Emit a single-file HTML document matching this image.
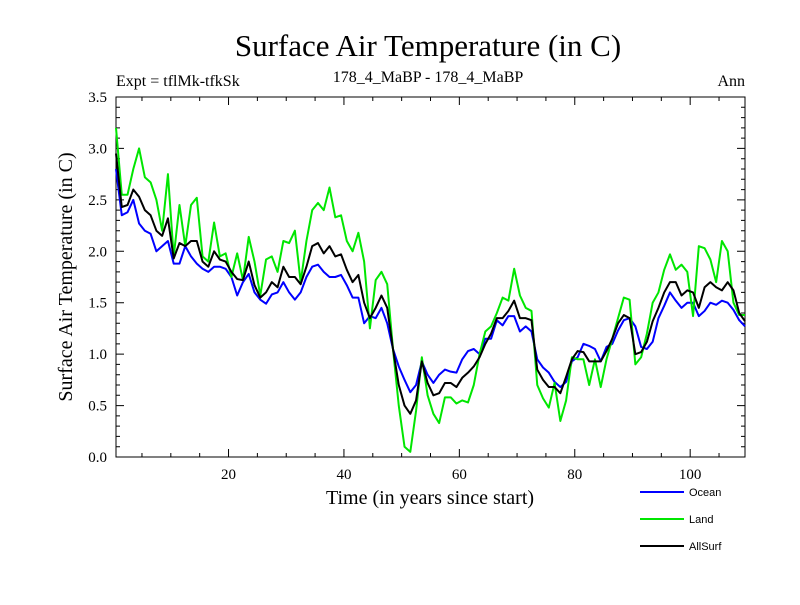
<!DOCTYPE html>
<html><head><meta charset="utf-8"><style>
body{margin:0;background:#fff;}
svg text{font-family:"Liberation Serif",serif;}
</style></head><body>
<svg id="chart" width="800" height="600" viewBox="0 0 800 600" xmlns="http://www.w3.org/2000/svg">
<rect width="800" height="600" fill="#fff"/>
<text x="428" y="56" text-anchor="middle" font-size="31">Surface Air Temperature (in C)</text>
<text x="116" y="86" font-size="16">Expt = tflMk-tfkSk</text>
<text x="428" y="82" text-anchor="middle" font-size="16">178_4_MaBP - 178_4_MaBP</text>
<text x="745" y="86" text-anchor="end" font-size="16">Ann</text>
<text x="430" y="504" text-anchor="middle" font-size="20">Time (in years since start)</text>
<text transform="translate(72,277) rotate(-90)" text-anchor="middle" font-size="20">Surface Air Temperature (in C)</text>
<g id="axes"></g>
<g id="series"></g>
<g id="legend"></g>
</svg>
<script>
const xTicks = [20, 40, 60, 80, 100];
const yTicks = [0.0, 0.5, 1.0, 1.5, 2.0, 2.5, 3.0, 3.5];
const yTickLabels = ["0.0","0.5","1.0","1.5","2.0","2.5","3.0","3.5"];
const seriesNames = ["Ocean", "Land", "AllSurf"];
const ocean = [2.8,2.35,2.38,2.5,2.27,2.2,2.17,2.0,2.05,2.1,1.88,1.88,2.05,1.95,1.88,1.83,1.8,1.85,1.85,1.83,1.75,1.57,1.7,1.78,1.6,1.53,1.49,1.58,1.6,1.7,1.6,1.53,1.6,1.75,1.85,1.87,1.8,1.75,1.75,1.77,1.67,1.55,1.55,1.3,1.37,1.35,1.45,1.3,1.05,0.88,0.75,0.63,0.7,0.93,0.8,0.72,0.8,0.85,0.83,0.82,0.95,1.03,1.05,1.0,1.15,1.15,1.33,1.28,1.37,1.37,1.22,1.27,1.22,0.95,0.87,0.82,0.73,0.68,0.73,0.93,0.97,1.1,1.08,1.05,0.93,1.07,1.1,1.23,1.33,1.35,1.27,1.07,1.05,1.12,1.35,1.47,1.6,1.52,1.45,1.5,1.5,1.37,1.42,1.5,1.48,1.52,1.5,1.43,1.33,1.27];
const land = [3.2,2.55,2.55,2.8,3.0,2.72,2.67,2.5,2.2,2.75,1.95,2.45,2.05,2.45,2.52,1.95,1.9,2.28,1.95,1.98,1.75,1.98,1.72,2.14,1.9,1.57,1.92,1.95,1.8,2.1,2.08,2.2,1.7,2.1,2.4,2.47,2.4,2.62,2.33,2.35,2.1,2.0,2.18,1.9,1.25,1.72,1.8,1.68,1.05,0.5,0.1,0.05,0.45,0.97,0.6,0.42,0.33,0.58,0.58,0.52,0.55,0.53,0.7,1.0,1.22,1.27,1.4,1.55,1.52,1.83,1.57,1.45,1.42,0.7,0.57,0.48,0.72,0.35,0.55,0.97,0.95,0.95,0.7,0.95,0.68,0.95,1.15,1.35,1.55,1.53,0.9,0.97,1.2,1.5,1.6,1.82,1.97,1.82,1.87,1.8,1.37,2.05,2.03,1.92,1.7,2.1,2.0,1.5,1.38,1.38];
const allSurf = [2.95,2.43,2.45,2.6,2.53,2.4,2.35,2.2,2.15,2.32,1.93,2.08,2.05,2.1,2.1,1.9,1.85,2.0,1.92,1.9,1.8,1.73,1.72,1.9,1.67,1.55,1.6,1.7,1.65,1.85,1.75,1.75,1.68,1.85,2.05,2.08,1.98,2.05,1.95,1.97,1.82,1.7,1.77,1.5,1.35,1.45,1.57,1.45,1.05,0.7,0.5,0.42,0.55,0.93,0.72,0.6,0.62,0.72,0.72,0.68,0.77,0.82,0.88,0.97,1.1,1.2,1.35,1.35,1.42,1.52,1.35,1.35,1.33,0.85,0.75,0.68,0.68,0.62,0.78,0.95,1.03,1.02,0.93,0.93,0.93,1.03,1.15,1.3,1.38,1.35,1.0,1.02,1.12,1.32,1.45,1.6,1.7,1.7,1.57,1.62,1.6,1.45,1.65,1.7,1.65,1.62,1.7,1.62,1.4,1.32];
const colors = ["#0000ff", "#00e600", "#000000"];

const L=116, R=745, T=97, B=457, X0=0.5, X1=109.5, Y0=0, Y1=3.5;
const xs = v => L + (v - X0) / (X1 - X0) * (R - L);
const ys = v => B - (v - Y0) / (Y1 - Y0) * (B - T);
const NS = "http://www.w3.org/2000/svg";
function mk(tag, attrs, parent){const e=document.createElementNS(NS,tag);for(const k in attrs)e.setAttribute(k,attrs[k]);parent.appendChild(e);return e;}
const axes=document.getElementById('axes');
const frame = mk('rect',{x:L,y:T,width:R-L,height:B-T,fill:'none',stroke:'#000','stroke-width':1},axes);


let tp="";
for(let v=5; v<=X1; v+=5){const x=xs(v);const len=(v%20===0)?8:4;tp+=`M${x},${B}v${-len}M${x},${T}v${len}`;}
for(let i=0;i<=35;i++){const v=i/10;const y=ys(v);const len=(i%5===0)?8:4;tp+=`M${L},${y}h${len}M${R},${y}h${-len}`;}
const ticks = mk('path',{d:tp,stroke:'#000','stroke-width':1,fill:'none'},axes);


xTicks.forEach(v=>{const t=mk('text',{x:xs(v),y:B+22,'text-anchor':'middle','font-size':15},axes);t.textContent=v;

});
yTicks.forEach((v,i)=>{const t=mk('text',{x:L-9,y:ys(v)+5,'text-anchor':'end','font-size':15},axes);t.textContent=yTickLabels[i];

});
const sg=document.getElementById('series');
[ocean,land,allSurf].forEach((arr,si)=>{
 const d=arr.map((v,i)=>(i?'L':'M')+xs(X0+i).toFixed(2)+','+ys(v).toFixed(2)).join('');
 const p=mk('path',{d:d,fill:'none',stroke:colors[si],'stroke-width':2,'stroke-linejoin':'round'},sg);
 
 
});
const lg=document.getElementById('legend');
[0,1,2].forEach(i=>{
 const y=492+i*27;
 const g=mk('g',{},lg);
 
 
 mk('line',{x1:640,x2:684,y1:y,y2:y,stroke:colors[i],'stroke-width':2},g);
 const t=mk('text',{x:689,y:y+4,'font-size':11,style:'font-family:"Liberation Sans",sans-serif'},g);
 t.textContent=seriesNames[i];
});
</script>
</body></html>
